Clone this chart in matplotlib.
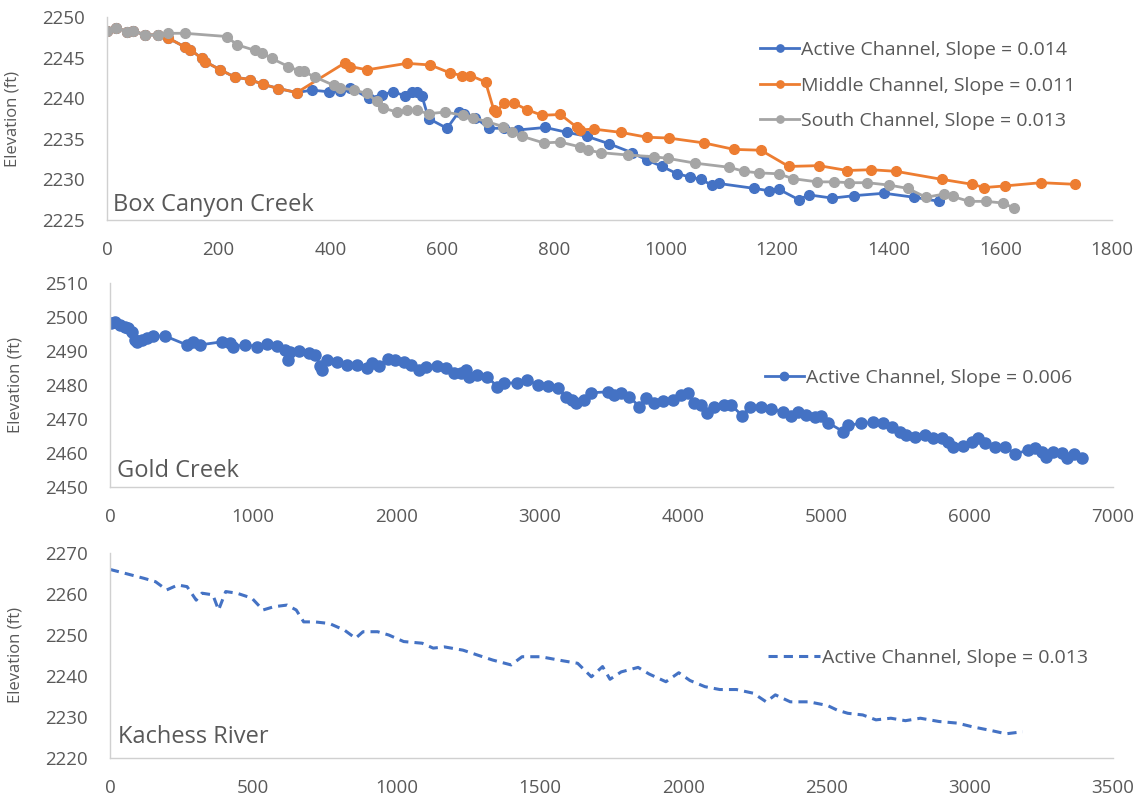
import matplotlib

matplotlib.use("Agg")

import matplotlib.pyplot as plt
import numpy as np

# Box Canyon Creek long profiles (distance ft, elevation ft)
active_x = [0, 17, 35, 47, 68, 92, 110, 140, 149, 170, 176, 203, 229, 256, 280, 307, 340,
            367, 397, 418, 436, 469, 492, 512, 534, 546, 555, 564, 576, 609, 630, 639, 660,
            684, 711, 737, 785, 824, 860, 899, 940, 967, 994, 1021, 1045, 1063, 1084, 1096,
            1159, 1186, 1203, 1239, 1257, 1299, 1338, 1392, 1446, 1491]
active_y = [2248.3, 2248.7, 2248.2, 2248.3, 2247.8, 2247.8, 2247.4, 2246.3, 2246.0, 2244.9,
            2244.5, 2243.5, 2242.6, 2242.3, 2241.7, 2241.2, 2240.7, 2241.0, 2240.8, 2240.9,
            2241.3, 2240.0, 2240.4, 2240.8, 2240.3, 2240.8, 2240.8, 2240.3, 2237.5, 2236.3,
            2238.3, 2238.1, 2237.6, 2236.3, 2236.3, 2236.1, 2236.4, 2235.8, 2235.3, 2234.4,
            2233.3, 2232.4, 2231.6, 2230.7, 2230.3, 2230.0, 2229.3, 2229.5, 2228.9, 2228.6,
            2228.8, 2227.5, 2228.1, 2227.7, 2228.0, 2228.3, 2227.8, 2227.3]

middle_x = [0, 17, 35, 47, 68, 92, 110, 140, 149, 170, 176, 203, 229, 256, 280, 307, 340,
            427, 436, 466, 537, 579, 615, 636, 651, 678, 693, 697, 711, 729, 752, 779, 812,
            842, 848, 872, 920, 967, 1006, 1069, 1123, 1171, 1221, 1275, 1326, 1368, 1413,
            1496, 1550, 1571, 1608, 1673, 1734]
middle_y = [2248.3, 2248.7, 2248.2, 2248.3, 2247.8, 2247.8, 2247.4, 2246.3, 2246.0, 2244.9,
            2244.5, 2243.5, 2242.6, 2242.3, 2241.7, 2241.2, 2240.7, 2244.4, 2243.9, 2243.5,
            2244.3, 2244.1, 2243.1, 2242.8, 2242.8, 2242.0, 2238.5, 2238.3, 2239.4, 2239.4,
            2238.6, 2237.9, 2238.0, 2236.4, 2236.1, 2236.2, 2235.8, 2235.2, 2235.1, 2234.5,
            2233.7, 2233.6, 2231.6, 2231.7, 2231.1, 2231.2, 2231.0, 2230.0, 2229.4, 2229.0,
            2229.2, 2229.6, 2229.4]

south_x = [0, 17, 35, 47, 68, 92, 110, 140, 215, 232, 265, 277, 295, 325, 343, 352, 373,
           406, 418, 442, 466, 483, 495, 519, 537, 555, 576, 606, 638, 656, 681, 710, 726,
           744, 782, 812, 848, 862, 884, 934, 979, 1004, 1054, 1114, 1141, 1168, 1203, 1228,
           1272, 1302, 1329, 1362, 1401, 1434, 1467, 1499, 1515, 1544, 1574, 1604, 1624]
south_y = [2248.3, 2248.7, 2248.2, 2248.3, 2247.8, 2247.8, 2248.0, 2248.0, 2247.6, 2246.6,
           2245.9, 2245.6, 2244.9, 2243.9, 2243.4, 2243.3, 2242.6, 2241.6, 2241.3, 2241.0,
           2240.6, 2239.6, 2238.8, 2238.3, 2238.5, 2238.5, 2238.1, 2238.3, 2237.9, 2237.6,
           2237.1, 2236.5, 2235.8, 2235.3, 2234.5, 2234.6, 2234.0, 2233.6, 2233.3, 2233.0,
           2232.8, 2232.6, 2232.0, 2231.5, 2231.0, 2230.8, 2230.7, 2230.1, 2229.7, 2229.7,
           2229.6, 2229.6, 2229.3, 2228.9, 2227.8, 2228.2, 2227.9, 2227.3, 2227.3, 2227.1,
           2226.5]

# Gold Creek active channel
gold_x = [5, 35, 70, 105, 128, 152, 175, 187, 222, 257, 303, 385, 536, 583, 629, 781, 839,
          862, 944, 1026, 1096, 1166, 1224, 1240, 1259, 1317, 1387, 1434, 1469, 1480, 1515,
          1585, 1655, 1725, 1795, 1830, 1880, 1940, 1990, 2051, 2098, 2156, 2203, 2284, 2343,
          2401, 2448, 2483, 2506, 2564, 2634, 2704, 2750, 2844, 2914, 2984, 3054, 3124, 3182,
          3228, 3252, 3310, 3357, 3473, 3520, 3566, 3625, 3695, 3741, 3800, 3858, 3928, 3986,
          4033, 4079, 4126, 4168, 4219, 4289, 4336, 4412, 4464, 4545, 4615, 4697, 4755, 4802,
          4860, 4918, 4965, 5012, 5117, 5152, 5245, 5327, 5397, 5455, 5513, 5559, 5617, 5687,
          5745, 5804, 5850, 5885, 5955, 6014, 6060, 6107, 6177, 6247, 6317, 6410, 6457, 6503,
          6531, 6585, 6643, 6678, 6725, 6783]
gold_y = [2498.1, 2498.6, 2497.6, 2497.1, 2496.7, 2495.7, 2493.2, 2492.7, 2493.2, 2493.7,
          2494.4, 2494.4, 2491.8, 2492.7, 2491.8, 2492.7, 2492.3, 2491.3, 2491.8, 2491.3,
          2492.1, 2491.5, 2490.3, 2487.4, 2489.8, 2490.1, 2489.3, 2488.8, 2485.6, 2484.4,
          2487.4, 2486.9, 2485.9, 2485.9, 2484.9, 2486.4, 2485.6, 2487.7, 2487.3, 2486.9,
          2485.9, 2484.4, 2485.2, 2485.6, 2484.9, 2483.4, 2483.4, 2484.4, 2482.4, 2482.9,
          2482.4, 2479.5, 2480.5, 2480.7, 2481.5, 2480.0, 2479.7, 2479.2, 2476.6, 2475.6,
          2474.6, 2475.6, 2477.7, 2478.0, 2477.1, 2477.6, 2476.6, 2473.6, 2476.1, 2474.8,
          2475.4, 2475.6, 2477.1, 2477.6, 2474.6, 2474.1, 2471.7, 2473.6, 2474.1, 2474.1,
          2471.0, 2473.6, 2473.6, 2472.8, 2472.2, 2470.9, 2472.2, 2471.2, 2470.7, 2470.9,
          2468.9, 2466.3, 2468.2, 2468.7, 2469.0, 2468.7, 2467.7, 2466.3, 2465.3, 2464.8,
          2465.3, 2464.3, 2464.3, 2463.3, 2461.9, 2462.1, 2463.3, 2464.3, 2463.0, 2461.9,
          2461.9, 2459.7, 2460.9, 2461.4, 2460.4, 2458.9, 2460.4, 2459.9, 2458.4, 2459.6,
          2458.4]

# Kachess River active channel
kachess_x = [0, 55, 120, 159, 198, 237, 269, 301, 321, 359, 379, 404, 443, 495, 534, 572,
             618, 650, 676, 715, 766, 818, 857, 883, 934, 973, 1025, 1089, 1128, 1167, 1232,
             1283, 1335, 1400, 1438, 1503, 1581, 1632, 1680, 1719, 1745, 1784, 1843, 1881,
             1940, 1985, 2024, 2076, 2128, 2186, 2245, 2290, 2322, 2374, 2439, 2504, 2537,
             2575, 2627, 2673, 2725, 2776, 2828, 2893, 2958, 3010, 3075, 3127, 3185]
kachess_y = [2266.0, 2265.0, 2263.8, 2263.0, 2261.0, 2262.2, 2261.8, 2258.5, 2260.2, 2259.8,
             2256.1, 2260.6, 2260.2, 2259.0, 2256.1, 2256.9, 2257.3, 2256.1, 2253.2, 2253.2,
             2252.8, 2251.2, 2249.2, 2250.8, 2250.8, 2250.0, 2248.4, 2248.0, 2246.8, 2247.1,
             2246.3, 2245.1, 2243.9, 2242.7, 2244.7, 2244.7, 2243.7, 2243.1, 2239.8, 2242.3,
             2239.2, 2241.0, 2242.1, 2240.5, 2238.6, 2240.8, 2238.9, 2237.4, 2236.7, 2236.7,
             2235.8, 2233.7, 2235.4, 2233.7, 2233.7, 2232.8, 2231.7, 2230.9, 2230.5, 2229.3,
             2229.7, 2229.1, 2229.7, 2228.9, 2228.5, 2227.6, 2226.7, 2225.9, 2226.4]

BLUE = "#4472C4"
ORANGE = "#ED7D31"
GRAY = "#A5A5A5"
TEXT = "#595959"
AXIS = "#D0D0D0"

plt.rcParams["font.family"] = ["Open Sans", "DejaVu Sans"]


def style_axis(ax, xmax, xstep, ymin, ymax, ystep, xpad):
    ax.set_xlim(0, xmax)
    ax.set_ylim(ymin, ymax)
    ax.set_xticks(np.arange(0, xmax + 1, xstep))
    ax.set_yticks(np.arange(ymin, ymax + 1, ystep))
    for side in ("top", "right"):
        ax.spines[side].set_visible(False)
    for side in ("left", "bottom"):
        ax.spines[side].set_color(AXIS)
        ax.spines[side].set_linewidth(1.0)
    ax.tick_params(axis="both", length=0, labelsize=13.5, labelcolor=TEXT)
    ax.tick_params(axis="y", pad=16)
    ax.tick_params(axis="x", pad=xpad)
    ax.set_ylabel("Elevation (ft)", fontsize=12, color=TEXT)
    ax.yaxis.set_label_coords(-0.086, 0.5)


def add_legend(ax, anchor, spacing=0.5, handlelength=2.0):
    leg = ax.legend(loc="center left", bbox_to_anchor=anchor, frameon=False,
                    fontsize=14, labelcolor=TEXT, handlelength=handlelength,
                    handletextpad=0.1, borderpad=0, borderaxespad=0,
                    labelspacing=spacing, markerscale=0.75)
    return leg


fig = plt.figure(figsize=(11.43, 8.01), dpi=100)

ax1 = fig.add_axes([0.0936, 0.7253, 0.8793, 0.2534])
ax2 = fig.add_axes([0.0962, 0.3920, 0.8775, 0.2547])
ax3 = fig.add_axes([0.0962, 0.0537, 0.8775, 0.2559])

line_kw = dict(marker="o", markersize=7, linewidth=2.0)
ax1.plot(active_x, active_y, color=BLUE, label="Active Channel, Slope = 0.014", **line_kw)
ax1.plot(middle_x, middle_y, color=ORANGE, label="Middle Channel, Slope = 0.011", **line_kw)
ax1.plot(south_x, south_y, color=GRAY, label="South Channel, Slope = 0.013", **line_kw)
style_axis(ax1, 1800, 200, 2225, 2250, 5, xpad=15)
add_legend(ax1, (0.650, 0.662), spacing=0.9)
ax1.text(0.006, 0.074, "Box Canyon Creek", transform=ax1.transAxes, fontsize=17,
         color=TEXT, va="center", ha="left")

ax2.plot(gold_x, gold_y, color=BLUE, label="Active Channel, Slope = 0.006",
         marker="o", markersize=8, linewidth=2.0)
style_axis(ax2, 7000, 1000, 2450, 2510, 10, xpad=15)
add_legend(ax2, (0.653, 0.534))
ax2.text(0.007, 0.08, "Gold Creek", transform=ax2.transAxes, fontsize=17,
         color=TEXT, va="center", ha="left")

ax3.plot(kachess_x, kachess_y, color=BLUE, linewidth=2.2, dashes=(3, 2),
         label="Active Channel, Slope = 0.013")
style_axis(ax3, 3500, 500, 2220, 2270, 10, xpad=15)
add_legend(ax3, (0.656, 0.488), handlelength=2.7)
ax3.text(0.008, 0.10, "Kachess River", transform=ax3.transAxes, fontsize=17,
         color=TEXT, va="center", ha="left")

fig.savefig("out.png", dpi=100)
plt.close(fig)
